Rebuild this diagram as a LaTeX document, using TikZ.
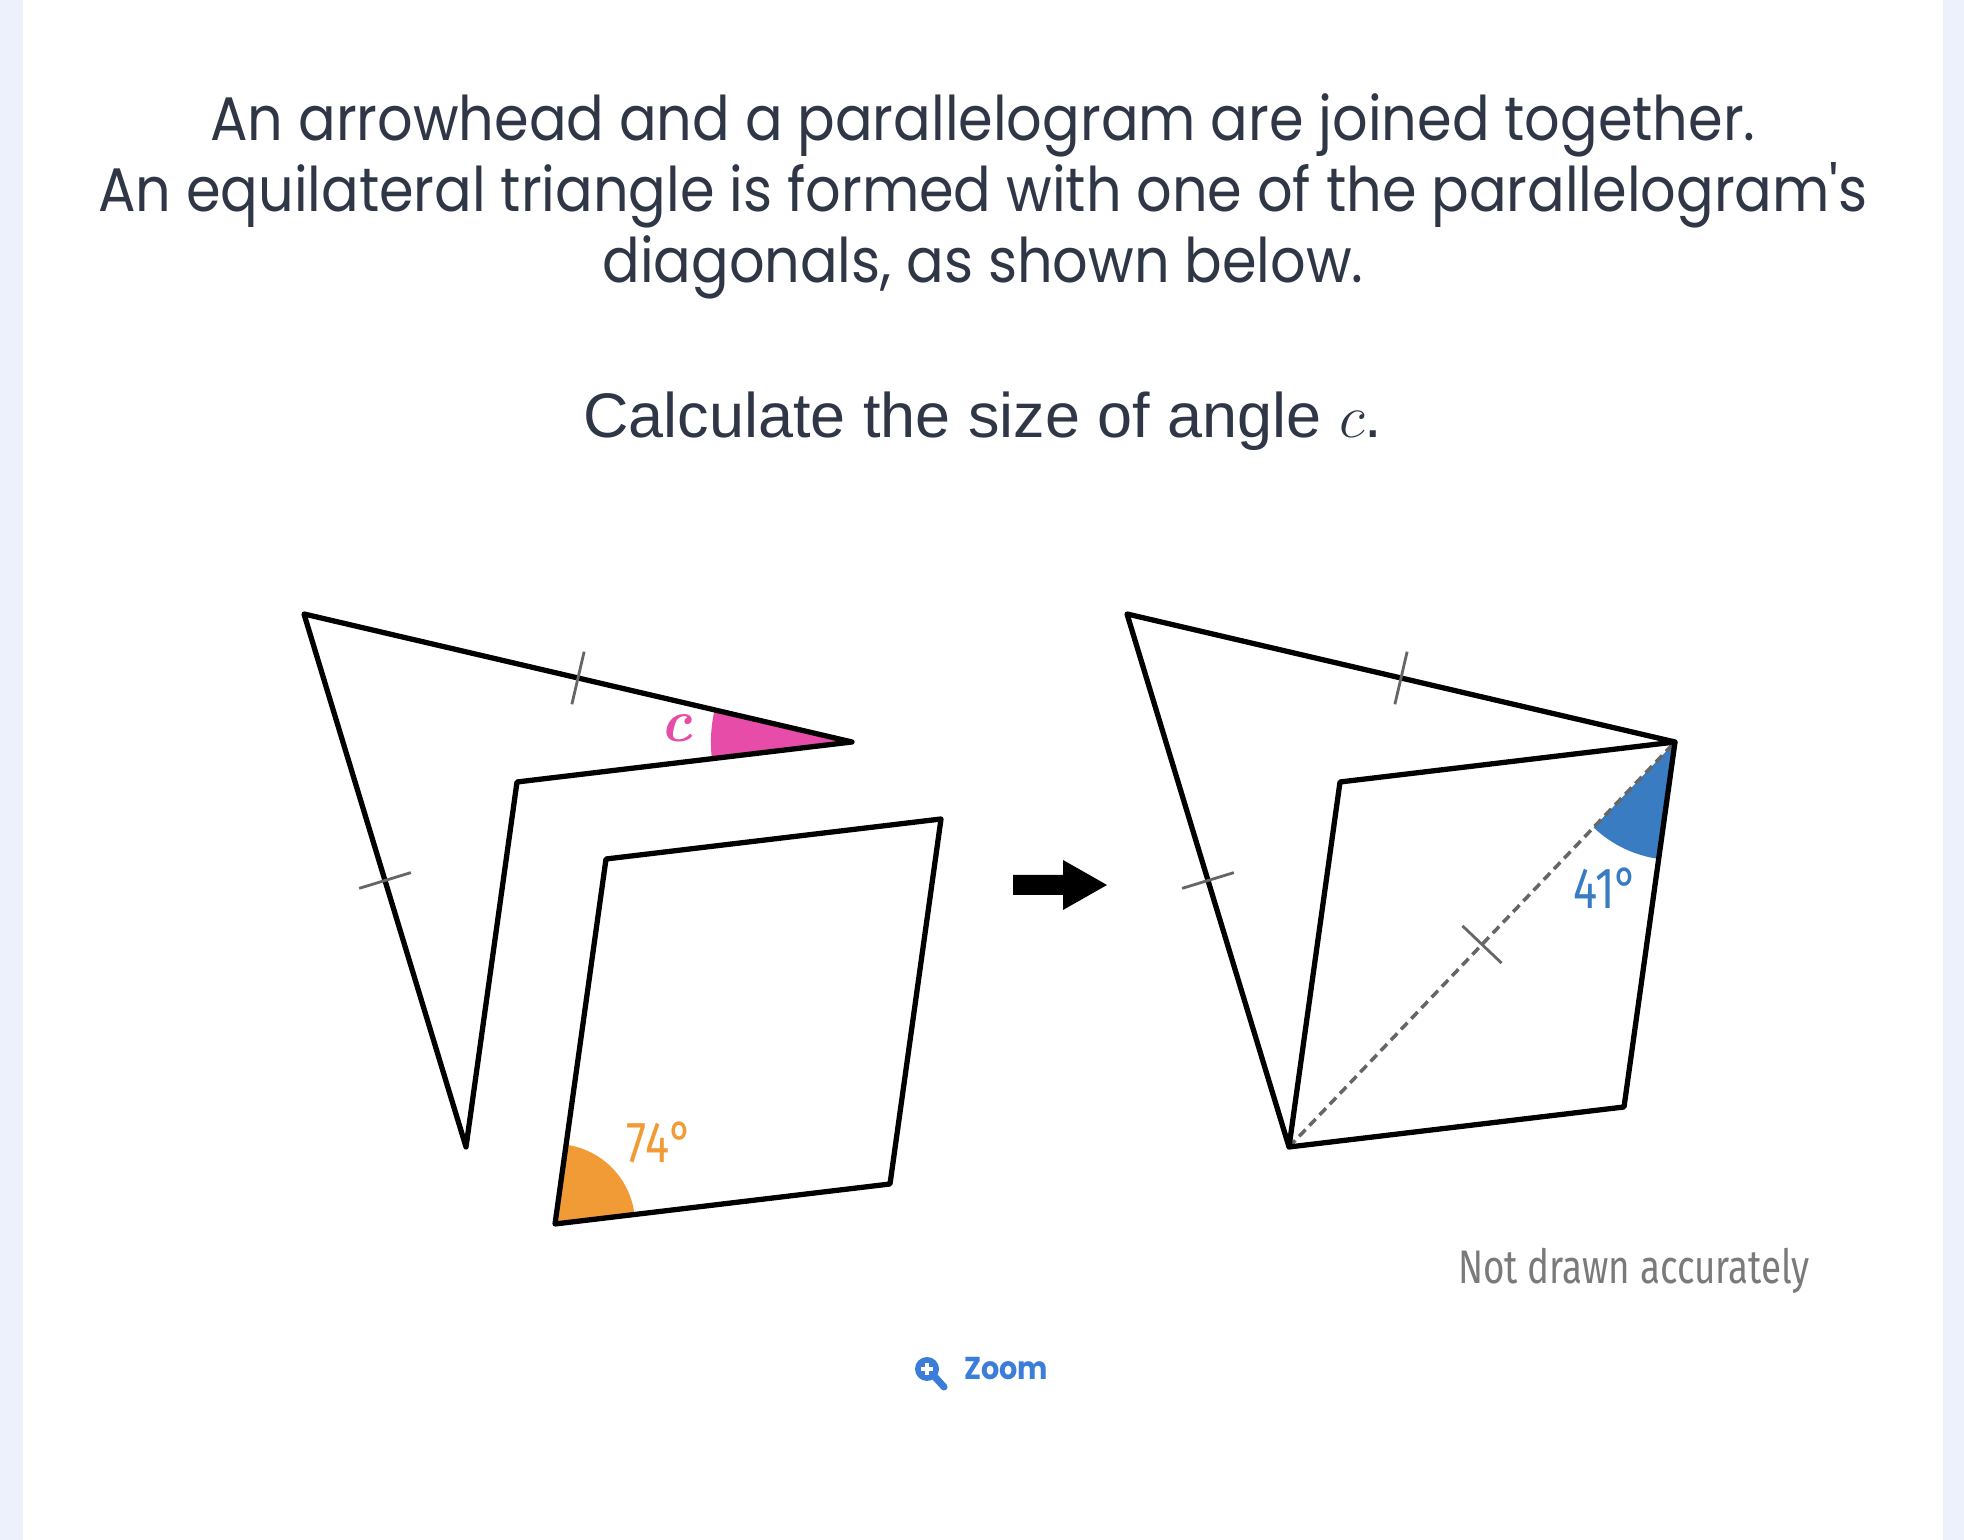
\documentclass[tikz,border=0pt]{standalone}
\usepackage{fontspec}
\usetikzlibrary{calc,angles}
\newfontfamily\titlefont[FakeStretch=0.905]{Poppins}
\newfontfamily\questfont{Liberation Sans}
\newfontfamily\notefont[FakeStretch=0.78]{Fira Sans}
\definecolor{textslate}{RGB}{47,55,71}
\definecolor{pagestrip}{RGB}{237,241,252}
\definecolor{anglepink}{RGB}{230,76,168}
\definecolor{angleorange}{RGB}{240,155,54}
\definecolor{angleblue}{RGB}{58,124,194}
\definecolor{zoomblue}{RGB}{59,125,216}
\definecolor{notegray}{RGB}{122,122,122}

\begin{document}
\begin{tikzpicture}[x=0.01cm,y=0.01cm,
    outline/.style={black,line width=1.5pt,line join=round},
    tickmark/.style={black!60,line width=0.8pt},
    diag/.style={black!60,line width=1pt,dash pattern=on 2.6pt off 1.6pt},
    titletext/.style={text=textslate,font=\titlefont\fontsize{17.5}{20.2}\selectfont,align=center},
    anglelabel/.style={font=\notefont\fontsize{16.5}{16.5}\selectfont,inner sep=0pt}]
  \useasboundingbox (0,0) rectangle (1964,1540);
  \fill[white] (0,0) rectangle (1964,1540);
  \fill[pagestrip] (0,0) rectangle (23,1540);
  \fill[pagestrip] (1943,0) rectangle (1964,1540);

  \node[titletext] (title) at (983,1344) {An arrowhead and a parallelogram are joined together.\\
    An equilateral triangle is formed with one of the parallelogram's\\
    diagonals, as shown below.};
  \node[text=textslate,font=\questfont\fontsize{17.9}{20}\selectfont] (question) at (983,1119)
    {Calculate the size of angle $c$.};

  % arrowhead, before and after
  \foreach \n/\dx in {l/0,r/823} {
    \coordinate (\n A) at (304+\dx,926);
    \coordinate (\n B) at (852+\dx,798);
    \coordinate (\n C) at (517+\dx,758);
    \coordinate (\n D) at (466+\dx,393);
  }
  \coordinate (rE) at (1624,433);
  % parallelogram on its own
  \coordinate (qBL) at (555,316);
  \coordinate (qTL) at (606,681);
  \coordinate (qTR) at (941,721);
  \coordinate (qBR) at (890,356);

  \pic[fill=anglepink,angle radius=1.41cm] {angle=lA--lB--lC};
  \pic[fill=angleorange,angle radius=0.8cm] {angle=qBR--qBL--qTL};
  \pic[fill=angleblue,angle radius=1.18cm] {angle=rD--rB--rE};

  \draw[diag] (rD) -- (rB);
  \foreach \n in {l,r} {
    \draw[outline] (\n A) -- (\n B) -- (\n C) -- (\n D) -- cycle;
  }
  \draw[outline] (qBL) -- (qTL) -- (qTR) -- (qBR) -- cycle;
  \draw[outline] (rB) -- (rE) -- (rD);

  \foreach \p/\q in {lA/lB,lA/lD,rA/rB,rA/rD,rD/rB} {
    \coordinate (mid) at ($(\p)!0.5!(\q)$);
    \draw[tickmark] ($(mid)!0.27cm!90:(\q)$) -- ($(mid)!0.27cm!-90:(\q)$);
  }

  \node[anglelabel,text=anglepink,font=\fontsize{17}{17}\selectfont\bfseries\itshape] (clabel) at (676,812) {c};
  \node[anglelabel,text=angleorange] (label74) at (660,398) {74°};
  \node[anglelabel,text=angleblue] (label41) at (1606,652) {41°};

  \fill (1013,645) -- (1063,645) -- (1063,630) -- (1107,655) -- (1063,680) -- (1063,665) -- (1013,665) -- cycle;

  \node[text=notegray,font=\notefont\fontsize{13.4}{14}\selectfont] (note) at (1634,269) {Not drawn accurately};

  \fill[zoomblue] (927,171) circle (12);
  \draw[zoomblue,line width=2pt,line cap=round] (935,163) -- (944,153);
  \draw[white,line width=1.3pt] (921,171) -- (933,171) (927,165) -- (927,177);
  \node[text=zoomblue,font=\titlefont\bfseries\fontsize{9}{10}\selectfont] (zoomtext) at (1006,171) {Zoom};
\end{tikzpicture}
\end{document}
